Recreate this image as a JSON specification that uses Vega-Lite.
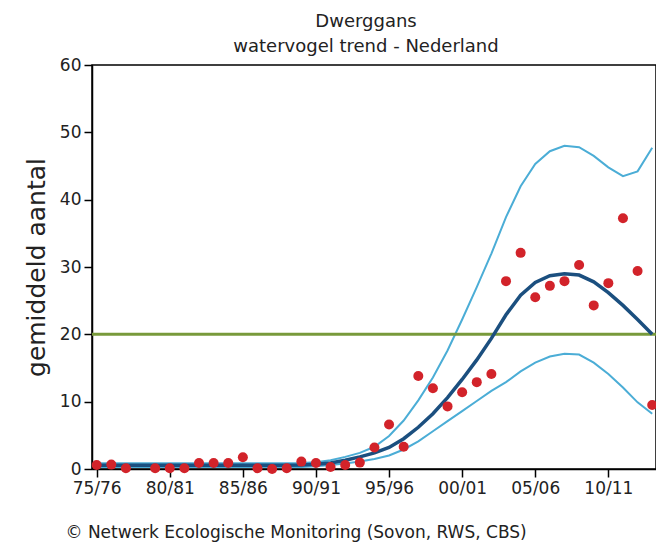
{
  "$schema": "https://vega.github.io/schema/vega-lite/v6.json",
  "width": 564,
  "height": 404,
  "autosize": {"type": "none"},
  "padding": {"left": 92, "top": 65, "right": 0, "bottom": 78},
  "background": "white",
  "config": {
    "view": {"stroke": "black", "strokeWidth": 1.5},
    "font": "DejaVu Sans"
  },
  "title": {
    "text": ["Dwerggans", "watervogel trend - Nederland"],
    "fontSize": 18,
    "fontWeight": "normal",
    "font": "DejaVu Sans",
    "color": "#222222",
    "anchor": "middle",
    "dx": -8,
    "offset": 0,
    "lineHeight": 25
  },
  "datasets": {
    "trend": [
      {"year": 1975, "count": 0.6, "trend": 0.55, "lower": 0.3, "upper": 0.85},
      {"year": 1976, "count": 0.65, "trend": 0.55, "lower": 0.3, "upper": 0.85},
      {"year": 1977, "count": 0.1, "trend": 0.55, "lower": 0.3, "upper": 0.85},
      {"year": 1978, "count": null, "trend": 0.55, "lower": 0.3, "upper": 0.85},
      {"year": 1979, "count": 0.1, "trend": 0.55, "lower": 0.3, "upper": 0.85},
      {"year": 1980, "count": 0.1, "trend": 0.55, "lower": 0.3, "upper": 0.85},
      {"year": 1981, "count": 0.1, "trend": 0.55, "lower": 0.3, "upper": 0.85},
      {"year": 1982, "count": 0.9, "trend": 0.55, "lower": 0.3, "upper": 0.85},
      {"year": 1983, "count": 0.9, "trend": 0.55, "lower": 0.3, "upper": 0.85},
      {"year": 1984, "count": 0.9, "trend": 0.55, "lower": 0.3, "upper": 0.85},
      {"year": 1985, "count": 1.75, "trend": 0.55, "lower": 0.3, "upper": 0.85},
      {"year": 1986, "count": 0.1, "trend": 0.55, "lower": 0.3, "upper": 0.85},
      {"year": 1987, "count": 0.0, "trend": 0.55, "lower": 0.3, "upper": 0.85},
      {"year": 1988, "count": 0.1, "trend": 0.55, "lower": 0.3, "upper": 0.85},
      {"year": 1989, "count": 1.1, "trend": 0.6, "lower": 0.3, "upper": 0.9},
      {"year": 1990, "count": 0.9, "trend": 0.7, "lower": 0.4, "upper": 1.0},
      {"year": 1991, "count": 0.3, "trend": 0.9, "lower": 0.6, "upper": 1.3},
      {"year": 1992, "count": 0.6, "trend": 1.3, "lower": 0.8, "upper": 1.8},
      {"year": 1993, "count": 0.95, "trend": 1.8, "lower": 1.1, "upper": 2.4},
      {"year": 1994, "count": 3.2, "trend": 2.4, "lower": 1.5, "upper": 3.3},
      {"year": 1995, "count": 6.6, "trend": 3.2, "lower": 2.0, "upper": 4.9},
      {"year": 1996, "count": 3.3, "trend": 4.5, "lower": 2.9, "upper": 7.2},
      {"year": 1997, "count": 13.8, "trend": 6.2, "lower": 4.1, "upper": 10.2},
      {"year": 1998, "count": 12.0, "trend": 8.2, "lower": 5.6, "upper": 13.6},
      {"year": 1999, "count": 9.3, "trend": 10.6, "lower": 7.1, "upper": 17.6},
      {"year": 2000, "count": 11.4, "trend": 13.3, "lower": 8.6, "upper": 22.2},
      {"year": 2001, "count": 12.9, "trend": 16.2, "lower": 10.1, "upper": 27.0},
      {"year": 2002, "count": 14.1, "trend": 19.4, "lower": 11.6, "upper": 32.0},
      {"year": 2003, "count": 27.9, "trend": 22.9, "lower": 12.9, "upper": 37.4},
      {"year": 2004, "count": 32.1, "trend": 25.8, "lower": 14.5, "upper": 42.0},
      {"year": 2005, "count": 25.5, "trend": 27.7, "lower": 15.8, "upper": 45.3},
      {"year": 2006, "count": 27.2, "trend": 28.7, "lower": 16.7, "upper": 47.2},
      {"year": 2007, "count": 27.9, "trend": 29.0, "lower": 17.1, "upper": 48.0},
      {"year": 2008, "count": 30.3, "trend": 28.8, "lower": 17.0, "upper": 47.8},
      {"year": 2009, "count": 24.3, "trend": 27.8, "lower": 15.8, "upper": 46.5},
      {"year": 2010, "count": 27.6, "trend": 26.2, "lower": 14.1, "upper": 44.8},
      {"year": 2011, "count": 37.25, "trend": 24.3, "lower": 12.1, "upper": 43.5},
      {"year": 2012, "count": 29.4, "trend": 22.2, "lower": 9.9, "upper": 44.2},
      {"year": 2013, "count": 9.5, "trend": 20.0, "lower": 8.2, "upper": 47.7}
    ],
    "reference": [
      {"level": 20}
    ]
  },
  "layer": [
    {
      "data": {"name": "trend"},
      "mark": {"type": "line", "color": "#4badd6", "strokeWidth": 2},
      "encoding": {
        "x": {
          "field": "year",
          "type": "quantitative",
          "scale": {"domain": [1974.68, 2013.26], "nice": false, "zero": false},
          "axis": {
            "values": [1975, 1980, 1985, 1990, 1995, 2000, 2005, 2010],
            "labelExpr": "format(datum.value % 100, '02d') + '/' + format((datum.value + 1) % 100, '02d')",
            "grid": false,
            "domainColor": "black",
            "domainWidth": 1.5,
            "tickColor": "black",
            "tickWidth": 1.5,
            "tickSize": 8,
            "labelFontSize": 17,
            "labelColor": "#222222",
            "labelFont": "DejaVu Sans",
            "labelPadding": 3,
            "title": "© Netwerk Ecologische Monitoring (Sovon, RWS, CBS)",
            "titleFont": "DejaVu Sans",
            "titleFontSize": 17,
            "titleFontWeight": "normal",
            "titleColor": "#222222",
            "titleAnchor": "start",
            "titleAlign": "left",
            "titleX": -27,
            "titlePadding": 28
          }
        },
        "y": {
          "field": "upper",
          "type": "quantitative",
          "scale": {"domain": [0, 60], "nice": false},
          "axis": {
            "values": [0, 10, 20, 30, 40, 50, 60],
            "grid": false,
            "domainColor": "black",
            "domainWidth": 1.5,
            "tickColor": "black",
            "tickWidth": 1.5,
            "tickSize": 8,
            "labelFontSize": 17,
            "labelColor": "#222222",
            "labelFont": "DejaVu Sans",
            "labelPadding": 3,
            "title": "gemiddeld aantal",
            "titleFont": "DejaVu Sans",
            "titleFontSize": 25,
            "titleFontWeight": "normal",
            "titleColor": "#222222",
            "titlePadding": 10
          }
        }
      }
    },
    {
      "data": {"name": "trend"},
      "mark": {"type": "line", "color": "#4badd6", "strokeWidth": 2},
      "encoding": {
        "x": {"field": "year", "type": "quantitative"},
        "y": {"field": "lower", "type": "quantitative"}
      }
    },
    {
      "data": {"name": "reference"},
      "mark": {"type": "rule", "color": "#789a3b", "strokeWidth": 3},
      "encoding": {"y": {"field": "level", "type": "quantitative"}}
    },
    {
      "data": {"name": "trend"},
      "mark": {"type": "line", "color": "#1b4f7f", "strokeWidth": 3.5},
      "encoding": {
        "x": {"field": "year", "type": "quantitative"},
        "y": {"field": "trend", "type": "quantitative"}
      }
    },
    {
      "data": {"name": "trend"},
      "mark": {"type": "circle", "color": "#d2232a", "opacity": 1, "size": 100},
      "encoding": {
        "x": {"field": "year", "type": "quantitative"},
        "y": {"field": "count", "type": "quantitative"}
      }
    }
  ]
}
